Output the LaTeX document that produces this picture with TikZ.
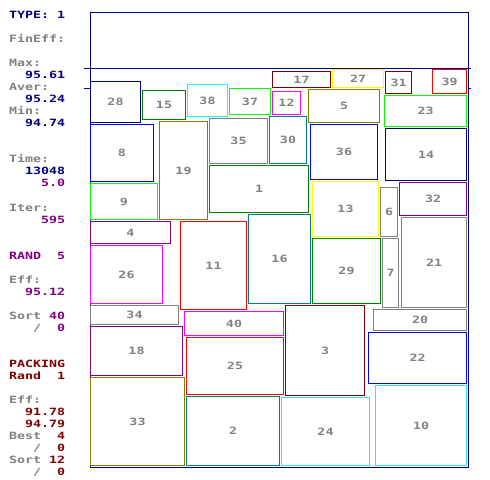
\documentclass[tikz,border=0pt]{standalone}
\usepackage{fontspec}
\newfontfamily\pixfont[FakeStretch=1.33]{DejaVu Sans Mono}
\definecolor{pnavy}{HTML}{000080}
\definecolor{pgreen}{HTML}{008000}
\definecolor{plime}{HTML}{00FF00}
\definecolor{pcyan}{HTML}{00FFFF}
\definecolor{pturq}{HTML}{33E6E6}
\definecolor{pmag}{HTML}{FF00FF}
\definecolor{pblue}{HTML}{0000FF}
\definecolor{polive}{HTML}{808000}
\definecolor{pgray}{HTML}{808080}
\definecolor{pteal}{HTML}{008080}
\definecolor{pred}{HTML}{FF0000}
\definecolor{pyellow}{HTML}{FFFF00}
\definecolor{ppurple}{HTML}{800080}
\definecolor{pmaroon}{HTML}{800000}

\begin{document}
\begin{tikzpicture}[
  x=1bp, y=-1bp,
  txt/.style={anchor=base west, inner sep=0pt, text=#1,
              font=\pixfont\bfseries\fontsize{10bp}{12bp}\selectfont},
  pk/.style={draw=#1, line width=1bp, inner sep=0pt, text=pgray,
             font=\pixfont\bfseries\fontsize{10bp}{12bp}\selectfont},
  bin/.style={draw=pnavy, line width=1bp, inner sep=0pt, anchor=north west},
]
\useasboundingbox (0,0) rectangle (490,480);

%% ===== BIN (pixel centres at +0.5) =====
\node[bin, minimum width=378bp, minimum height=454bp] (bin) at (89.5,12.5) {};
\draw[pnavy, line width=1bp] (84,68.5) -- (471,68.5);
\draw[pnavy, line width=1bp] (84,88.5) -- (bin.west |- 0,88.5);
\draw[pnavy, line width=1bp] (bin.east |- 0,88.5) -- (471,88.5);

%% ===== PACKED ITEMS =====
\foreach \n/\xa/\ya/\xb/\yb/\c in {
   1/209/165/308/212/pgreen,   2/186/396/279/465/pteal,
   3/285/305/364/395/pmaroon,  4/90/221/170/243/ppurple,
   5/308/89/379/122/polive,    6/380/187/397/236/pgray,
   7/382/238/398/307/pgray,    8/90/124/153/181/pblue,
   9/90/183/157/219/plime,    10/375/385/466/465/pturq,
  11/180/221/246/309/pred,    12/272/91/300/114/pmag,
  13/312/181/378/236/pyellow, 14/385/128/466/180/pnavy,
  15/142/90/185/119/pgreen,   16/248/214/310/303/pteal,
  17/272/71/330/87/pmaroon,   18/90/326/182/375/ppurple,
  19/159/121/207/219/polive,  20/373/309/466/330/pgray,
  21/401/217/466/307/pgray,   22/368/332/466/383/pblue,
  23/384/95/466/126/plime,    24/281/397/369/465/pturq,
  25/186/337/283/394/pred,    26/90/245/162/303/pmag,
  27/332/69/383/87/pyellow,   28/90/81/140/122/pnavy,
  29/312/238/380/303/pgreen,  30/269/116/306/163/pteal,
  31/385/71/411/93/pmaroon,   32/399/182/466/215/ppurple,
  33/90/377/184/465/polive,   34/90/305/178/324/pgray,
  35/209/118/267/163/pgray,   36/310/124/377/179/pblue,
  37/229/88/270/114/plime,    38/187/84/227/116/pcyan,
  39/432/69/466/93/pred,      40/184/311/283/335/pmag}
  \node[pk=\c, minimum width={(\xb-\xa)*1bp}, minimum height={(\yb-\ya)*1bp}]
    (b\n) at ({(\xa+\xb)/2+0.5},{(\ya+\yb)/2+0.5}) {\n};

%% ===== STATUS PANEL =====
\foreach \r/\col/\c/\t in {
  0/0/pnavy/TYPE:, 0/6/pnavy/1,
  2/0/pgray/FinEff:,
  4/0/pgray/Max:,   5/2/pnavy/95.61,
  6/0/pgray/Aver:,  7/2/pnavy/95.24,
  8/0/pgray/Min:,   9/2/pnavy/94.74,
  12/0/pgray/Time:, 13/2/pnavy/13048, 14/4/ppurple/5.0,
  16/0/pgray/Iter:, 17/4/ppurple/595,
  20/0/ppurple/RAND, 20/6/ppurple/5,
  22/0/pgray/Eff:,  23/2/ppurple/95.12,
  25/0/pgray/Sort,  25/5/ppurple/40,
  26/3/pgray/\slash, 26/6/ppurple/0,
  29/0/pmaroon/PACKING,
  30/0/pmaroon/Rand, 30/6/pmaroon/1,
  32/0/pgray/Eff:,  33/2/pmaroon/91.78, 34/2/pmaroon/94.79,
  35/0/pgray/Best,  35/6/pmaroon/4,
  36/3/pgray/\slash, 36/6/pmaroon/0,
  37/0/pgray/Sort,  37/5/pmaroon/12,
  38/3/pgray/\slash, 38/6/pmaroon/0}
  \node[txt=\c] (t\r-\col) at ({9+8*\col},{19+12*\r}) {\t};

\end{tikzpicture}
\end{document}
